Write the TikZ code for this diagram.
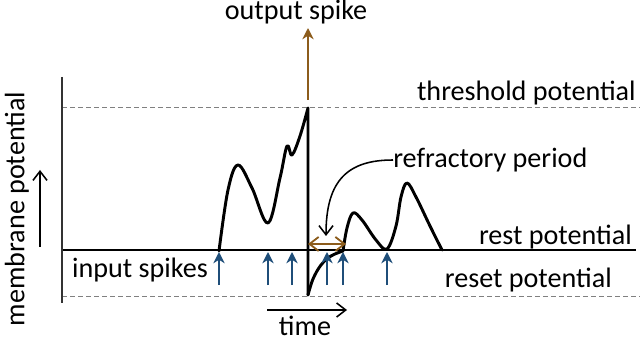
\documentclass[tikz,border=0pt]{standalone}
\usepackage{fontspec}
\setmainfont{Carlito}
\usetikzlibrary{arrows.meta,positioning}
\definecolor{spikebrown}{RGB}{140,92,28}
\definecolor{inblue}{RGB}{31,78,121}
\definecolor{dashgray}{RGB}{128,128,128}

\begin{document}
\begin{tikzpicture}[x=0.025cm, y=-0.025cm,
    lbl/.style={font=\fontsize{20}{22}\selectfont, inner sep=0pt},
    level/.style={dashgray, line width=0.7pt, dash pattern=on 3.5pt off 2.2pt},
    vm/.style={line width=2.1pt, line join=round, line cap=round},
    inspike/.style={inblue, line width=2.1pt, -{Stealth[length=8pt, width=8pt, inset=2.5pt]}},
    outspike/.style={spikebrown, line width=2.1pt, -{Stealth[length=8pt, width=8pt, inset=2.5pt]}},
    thinarrow/.style={line width=1.1pt, -{Straight Barb[length=6.5pt, width=10pt]}}
  ]
  \useasboundingbox (0,0) rectangle (640,341);

  % labels
  \node[lbl]                 (outlbl)   at (296,12)  {output spike};
  \node[lbl, anchor=east]    (thrlbl)   at (636,93)  {threshold potential};
  \node[lbl, anchor=east]    (restlbl)  at (632,237) {rest potential};
  \node[lbl, anchor=east]    (resetlbl) at (612,280) {reset potential};
  \node[lbl, anchor=west]    (refrlbl)  at (393,160) {refractory period};
  \node[lbl]                 (inlbl)    at (140,270) {input spikes};
  \node[lbl]                 (timelbl)  at (305,326) {time};
  \node[lbl, rotate=90]      (mplbl)    at (17,209)  {membrane potential};

  % levels and axis
  \draw[level] (62,107) -- (640,107);
  \draw[level] (62,296) -- (640,296);
  \draw[line width=1pt] (62,250) -- (636,250);
  \draw[line width=1.4pt, black!80] (62,77) -- (62,303);

  % membrane potential
  \draw[vm] plot[smooth, tension=0.6] coordinates {(219,251) (228,190) (238,165) (252,188) (268,223)
    (280,178) (287,146) (292,155) (300,136) (308,108)} -- (308,295);
  \draw[vm] plot[smooth, tension=0.6] coordinates {(308,295) (313,279) (321,265) (331,256) (343,251)};
  \draw[vm] plot[smooth, tension=0.6] coordinates {(343,251) (347,228) (353,213) (362,220) (376,240)
    (387,249) (396,226) (401,197) (407,183) (416,197) (430,226) (442,250)};

  % spikes
  \coordinate (fire)    at (308,100);
  \coordinate (firetop) at (308,28);
  \draw[outspike] (fire) -- (firetop);
  \foreach \x in {219,268,292,327,343,387}
    \draw[inspike] (\x,285) -- (\x,252);

  % refractory period
  \coordinate (refa) at (308,244);
  \coordinate (refb) at (346,244);
  \draw[spikebrown, line width=1.3pt, {Straight Barb[length=6.5pt, width=10pt]}-{Straight Barb[length=6.5pt, width=10pt]}] (refa) -- (refb);
  \coordinate (refend) at (326,236);
  \draw[thinarrow] (refrlbl.west) .. controls (348,160) and (326,180) .. (refend);

  % axis arrows
  \coordinate (mp0) at (40,247);
  \coordinate (mp1) at (40,170);
  \draw[thinarrow] (mp0) -- (mp1);
  \coordinate (t0) at (267,310);
  \coordinate (t1) at (347,310);
  \draw[thinarrow] (t0) -- (t1);
\end{tikzpicture}
\end{document}
